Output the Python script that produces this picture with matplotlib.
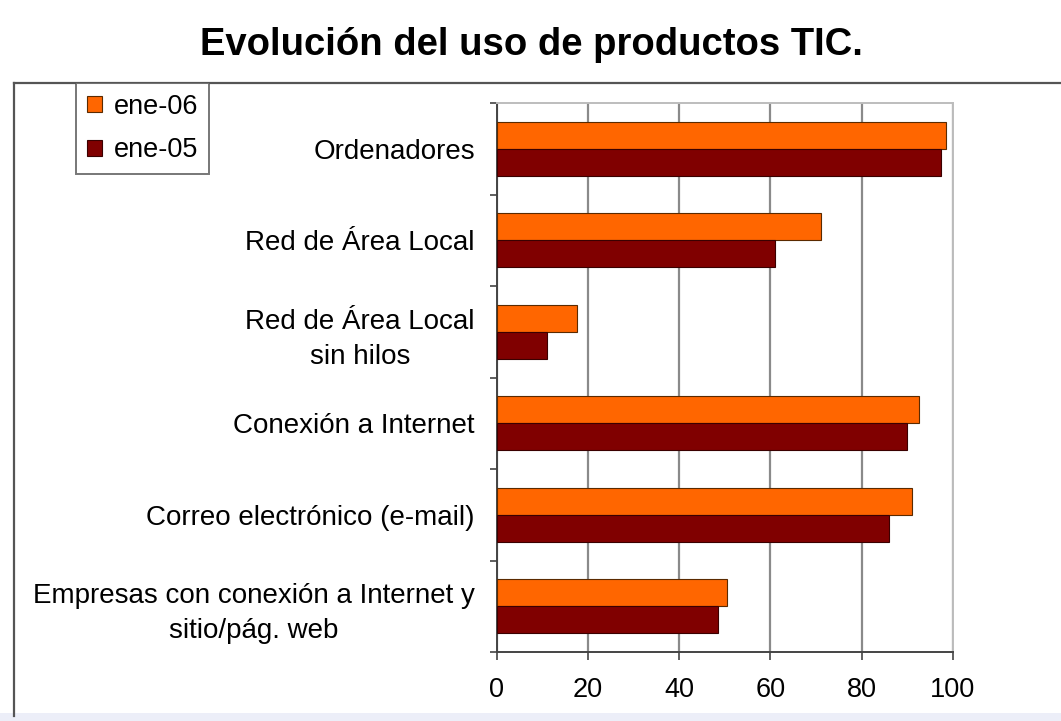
import matplotlib
matplotlib.use("Agg")
import matplotlib.pyplot as plt
import numpy as np
from matplotlib.patches import Rectangle

plt.rcParams['font.family'] = ['Liberation Sans', 'DejaVu Sans']

categorias = [
    "Ordenadores",
    "Red de Área Local",
    "Red de Área Local\nsin hilos",
    "Conexión a Internet",
    "Correo electrónico (e-mail)",
    "Empresas con conexión a Internet y\nsitio/pág. web",
]
ene_06 = [98.5, 71.0, 17.5, 92.5, 91.0, 50.5]
ene_05 = [97.5, 61.0, 11.0, 90.0, 86.0, 48.5]
ticks_x = [0, 20, 40, 60, 80, 100]

col_06 = "#FF6600"
col_05 = "#800000"

W, H = 1061, 721
fig = plt.figure(figsize=(W / 100, H / 100), dpi=100)
fig.patch.set_facecolor("white")

# pale page margin along the bottom
fig.add_artist(Rectangle((0, 0), 1, 8 / H, transform=fig.transFigure,
                         facecolor="#eceef8", edgecolor="none"))

# outer chart frame
fig.add_artist(plt.Line2D([14 / W, 14 / W], [1 - 83 / H, 1 - 716 / H],
                          transform=fig.transFigure, color="#555555", lw=1.6))
fig.add_artist(plt.Line2D([14 / W, 1.0], [1 - 83 / H, 1 - 83 / H],
                          transform=fig.transFigure, color="#555555", lw=1.6))

ax = fig.add_axes([497 / W, 1 - 652 / H, 455.7 / W, 549 / H])

y = np.arange(len(categorias))
h = 0.295
ax.barh(y - h / 2, ene_06, height=h, color=col_06, edgecolor="#5a2a00",
        linewidth=0.8, label="ene-06", zorder=3)
ax.barh(y + h / 2, ene_05, height=h, color=col_05, edgecolor="#3a0000",
        linewidth=0.8, label="ene-05", zorder=3)

ax.set_xlim(0, 100)
ax.set_ylim(len(categorias) - 0.5, -0.5)
ax.set_xticks(ticks_x)
ax.set_xticklabels([str(t) for t in ticks_x], fontsize=19.5)
ax.set_yticks(y)
ax.set_yticklabels(categorias, fontsize=20, multialignment="center",
                   linespacing=1.45)
ax.set_yticks(np.arange(len(categorias) + 1) - 0.5, minor=True)
ax.tick_params(axis="y", which="major", length=0, pad=16)
ax.tick_params(axis="y", which="minor", length=5, width=1.2, color="#444444",
               direction="out")
ax.tick_params(axis="x", length=6, width=1.2, color="#444444", pad=12)

ax.grid(axis="x", color="#8a8a8a", lw=1.6, zorder=0)
for s in ("left", "bottom"):
    ax.spines[s].set_color("#444444")
    ax.spines[s].set_linewidth(1.4)
for s in ("top", "right"):
    ax.spines[s].set_color("#bdbdbd")
    ax.spines[s].set_linewidth(1.4)

leg = fig.legend(loc="upper left", bbox_to_anchor=(76 / W, 1 - 83 / H),
                 fontsize=19.5, frameon=True, fancybox=False, handlelength=0.55,
                 handleheight=0.55, handletextpad=0.45, borderpad=0.4,
                 labelspacing=0.65, borderaxespad=0)
leg.get_frame().set_edgecolor("#555555")
leg.get_frame().set_linewidth(1.4)

fig.text(531 / W, 1 - 45 / H, "Evolución del uso de productos TIC.",
         ha="center", va="center", fontsize=27.5, fontweight="bold")

fig.savefig("out.png", dpi=100)
